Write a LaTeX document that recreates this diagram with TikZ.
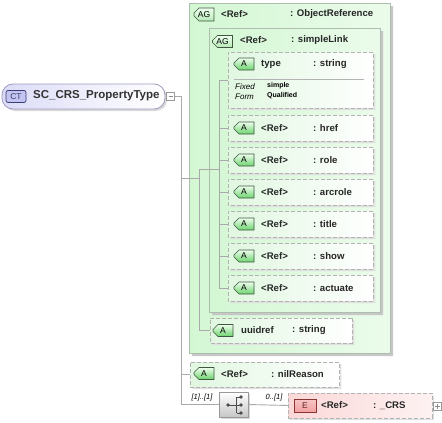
\documentclass[tikz,border=0pt]{standalone}
\usepackage{fontspec}
\setmainfont{Liberation Sans}
\usetikzlibrary{positioning,shadows,shapes.misc}
\definecolor{wire}{HTML}{A9A9A9}
\definecolor{grpfill}{HTML}{D3F7D3}
\definecolor{grpline}{HTML}{AEBDAE}
\definecolor{attline}{HTML}{B3B3B3}
\definecolor{attfill}{HTML}{E0F7E0}
\definecolor{tagtop}{HTML}{EEFFEE}
\definecolor{tagbot}{HTML}{6CD26C}
\definecolor{tagline}{HTML}{3F573F}
\definecolor{ctfill}{HTML}{DCDCF8}
\definecolor{ctline}{HTML}{9C9CC0}
\definecolor{cttag}{HTML}{C3C4EF}
\definecolor{ctdark}{HTML}{3C3C78}
\definecolor{elfill}{HTML}{FBD8D8}
\definecolor{eltag}{HTML}{F2A0A0}
\definecolor{elline}{HTML}{8A3434}
\tikzset{
  wire/.style={draw=wire,line width=.9pt},
  grp/.style={chamfered rectangle,chamfered rectangle corners={north west,south west},
    chamfered rectangle sep=9pt,draw=grpline,line width=.9pt,left color=grpfill,
    right color=grpfill!45!white,inner sep=0pt,
    drop shadow={shadow xshift=3pt,shadow yshift=-3pt,fill=black!22,opacity=1}},
  att/.style={chamfered rectangle,chamfered rectangle corners={north west,south west},
    chamfered rectangle sep=6pt,draw=attline,dash pattern=on 4pt off 2pt,line width=.9pt,
    left color=attfill,right color=white,minimum width=145pt,minimum height=26pt,
    inner sep=0pt,anchor=west,
    drop shadow={shadow xshift=2pt,shadow yshift=-2pt,fill=black!12,opacity=1}},
  tag/.style={chamfered rectangle,chamfered rectangle corners={north west,south west},
    chamfered rectangle sep=2.5pt,draw=tagline,line width=.6pt,top color=tagtop,
    bottom color=tagbot,font=\fontsize{8.5}{8.5}\selectfont,inner sep=0pt,
    minimum height=12pt,minimum width=20pt},
  grptag/.style={tag,top color=tagtop,bottom color=tagbot!50!white},
  ref/.style={font=\fontsize{9.6}{9.6}\selectfont\bfseries,text=black!85,anchor=west,inner sep=0pt},
  fixd/.style={font=\fontsize{8}{8}\selectfont\itshape,anchor=west,inner sep=0pt},
  fixv/.style={font=\fontsize{7}{7}\selectfont\bfseries,anchor=west,inner sep=0pt},
  mult/.style={font=\fontsize{7.5}{7.5}\selectfont\itshape,inner sep=0pt},
  pmbox/.style={draw=black!40,fill=white,line width=.6pt,minimum size=8pt,inner sep=0pt},
}
\begin{document}
\begin{tikzpicture}[x=1pt,y=-1pt]
\useasboundingbox (0,0) rectangle (442,423);
% attribute groups
\node[grp,minimum width=201pt,minimum height=350pt] (objref) at (289.5,178) {};
\node[grp,minimum width=171pt,minimum height=284pt] (slink) at (294.5,170) {};
\node[grptag,minimum height=13pt] (objref-t) at (204,14.5) {AG};
\node[ref] (objref-r) at (221,14) {<Ref>};
\node[ref] (objref-n) at (290,14) {: ObjectReference};
\node[grptag] (slink-t) at (222.5,41.5) {AG};
\node[ref] (slink-r) at (240,40) {<Ref>};
\node[ref] (slink-n) at (291,40) {: simpleLink};
% attributes
\node[att,minimum height=56pt] (a-type) at (228,80) {};
\node[tag] (a-type-t) at (244,64) {A};
\node[ref] (a-type-r) at (261,64) {type};
\node[ref] (a-type-n) at (313,64) {: string};
\draw[attline,line width=.8pt] (234,79) -- (364,79);
\node[fixd] (fx1) at (235,87) {Fixed};
\node[fixd] (fx2) at (235,97) {Form};
\node[fixv] (fv1) at (267,86) {simple};
\node[fixv] (fv2) at (267,96) {Qualified};
\foreach \ty [count=\i] in {href,role,arcrole,title,show,actuate}{
  \node[att] (a-\ty) at (228,96+32*\i) {};
  \node[tag] (a-\ty-t) at (244,96+32*\i) {A};
  \node[ref] (a-\ty-r) at (261,96+32*\i) {<Ref>};
  \node[ref] (a-\ty-n) at (313,96+32*\i) {: \ty};
}
\node[att,minimum width=142pt,minimum height=25pt] (uuid) at (210,330.5) {};
\node[tag] (uuid-t) at (223,330.5) {A};
\node[ref] (uuid-r) at (241,330.5) {uuidref};
\node[ref] (uuid-n) at (292,330.5) {: string};
\node[att,minimum width=149pt,minimum height=25pt] (nil) at (190,374.5) {};
\node[tag] (nil-t) at (204,373.5) {A};
\node[ref] (nil-r) at (221,374) {<Ref>};
\node[ref] (nil-n) at (271,374) {: nilReason};
% complex type
\node[draw=ctline,line width=.8pt,rounded corners=11pt,left color=ctfill,right color=white,
  minimum width=163pt,minimum height=25pt,
  drop shadow={shadow xshift=2pt,shadow yshift=-2pt,fill=black!15,opacity=1}] (ct) at (83.5,96.5) {};
\node[draw=ctdark,fill=cttag,rounded corners=2pt,line width=.7pt,minimum width=20pt,minimum height=12pt,
  inner sep=0pt,font=\fontsize{8.5}{8.5}\selectfont,text=ctdark] (ct-t) at (16,96.5) {CT};
\node[font=\fontsize{11.5}{11.5}\selectfont\bfseries,text=black!80,anchor=west,inner sep=0pt] (ct-n) at (33,96) {SC\_CRS\_PropertyType};
\node[pmbox] (minus) at (170.5,96.5) {};
\draw[black!45,line width=.6pt] ([xshift=-2pt]minus.center) -- ([xshift=2pt]minus.center);
% sequence and element
\node[draw=black!40,line width=.7pt,top color=white,bottom color=black!22,minimum width=29pt,
  minimum height=25pt,drop shadow={shadow xshift=2pt,shadow yshift=-2pt,fill=black!15,opacity=1}] (seq) at (233.5,404.5) {};
\draw[black!70,line width=.7pt] (228,405) -- (236.5,405) (236.5,397) -- (236.5,413)
  (236.5,397) -- (241,397) (236.5,405) -- (241,405) (236.5,413) -- (241,413);
\foreach \yy in {397,405,413} \fill[black!70] (241,\yy) circle (1.8pt);
\fill[black!70] (228,405) circle (1.8pt);
\node[draw=attline,dash pattern=on 4pt off 2pt,line width=.9pt,left color=elfill,right color=elfill!35!white,
  minimum width=144pt,minimum height=25pt,anchor=west,
  drop shadow={shadow xshift=2pt,shadow yshift=-2pt,fill=black!12,opacity=1}] (crs) at (288,405.5) {};
\node[draw=elline,line width=.6pt,top color=eltag!60!white,bottom color=eltag,minimum width=22pt,
  minimum height=13pt,inner sep=0pt,font=\fontsize{8.5}{8.5}\selectfont,text=elline!70!black] (crs-t) at (305,405.5) {E};
\node[ref] (crs-r) at (321,405.5) {<Ref>};
\node[ref] (crs-n) at (373,405.5) {: \_CRS};
\node[pmbox,minimum size=8pt] (plus) at (437,406) {};
\draw[black!45,line width=.6pt] ([xshift=-2.5pt]plus.center) -- ([xshift=2.5pt]plus.center)
  ([yshift=-2.5pt]plus.center) -- ([yshift=2.5pt]plus.center);
% connectors
\coordinate (trunk) at (181,96.5);
\coordinate (grpin) at (199,178);
\coordinate (grpbus) at (199,169);
\coordinate (linkbus) at (219,80);
\draw[wire] (minus.east) -- (trunk) |- (seq.west);
\draw[wire] (trunk |- grpin) -- (grpin);
\draw[wire] (grpbus) |- (uuid.west);
\draw[wire] (grpbus) -- (grpbus -| linkbus);
\draw[wire] (linkbus) -- (a-type.west);
\draw[wire] (linkbus) |- (a-actuate.west);
\foreach \ty in {href,role,arcrole,title,show}
  \draw[wire] (linkbus |- a-\ty.west) -- (a-\ty.west);
\draw[wire] (trunk |- nil.west) -- (nil.west);
\draw[wire] (seq.east) -- (crs.west);
\node[mult] (m-seq) at (202,398) {[1]..[1]};
\node[mult] (m-crs) at (274,397.5) {0..[1]};
\end{tikzpicture}
\end{document}
